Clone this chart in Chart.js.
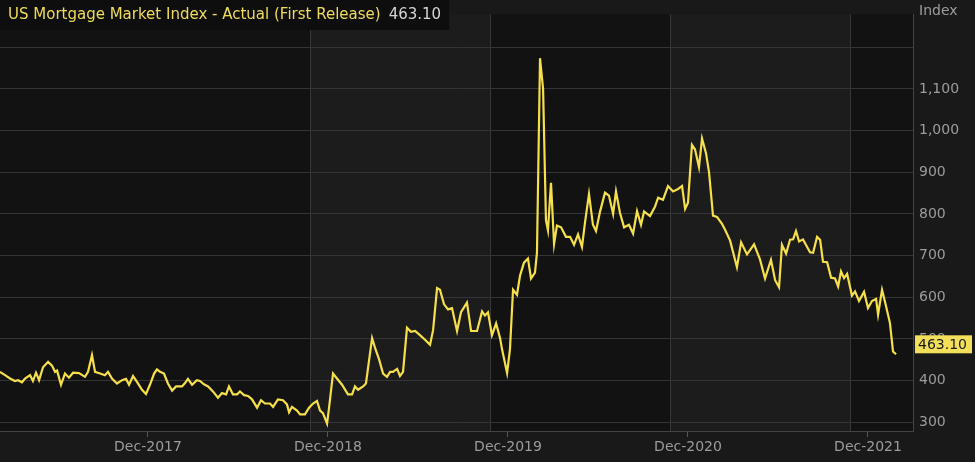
<!DOCTYPE html>
<html>
<head>
<meta charset="utf-8">
<script src="https://cdn.jsdelivr.net/npm/chart.js@4.4.1/dist/chart.umd.min.js"></script>
<style>
  html, body { margin: 0; padding: 0; background: #191919; overflow: hidden; }
  #wrap { position: relative; width: 975px; height: 462px; }
</style>
</head>
<body>
<div id="wrap"><canvas id="chart"></canvas></div>
<script>
// US Mortgage Market Index, weekly (decimal-year dates)
const SERIES_NAME = 'US Mortgage Market Index - Actual (First Release)';
const LAST_VALUE = 463.10;

const times = [
  2017.095, 2017.123, 2017.151, 2017.178, 2017.195, 2017.217, 2017.234, 2017.262, 2017.278, 2017.295,
  2017.312, 2017.334, 2017.362, 2017.384, 2017.401, 2017.412, 2017.434, 2017.456, 2017.478, 2017.501,
  2017.534, 2017.567, 2017.584, 2017.606, 2017.623, 2017.651, 2017.678, 2017.695, 2017.717, 2017.745,
  2017.773, 2017.795, 2017.812, 2017.834, 2017.856, 2017.884, 2017.906, 2017.928, 2017.951, 2017.967,
  2017.984, 2018.006, 2018.028, 2018.051, 2018.073, 2018.106, 2018.123, 2018.139, 2018.162, 2018.189,
  2018.206, 2018.228, 2018.251, 2018.278, 2018.306, 2018.328, 2018.351, 2018.367, 2018.389, 2018.412,
  2018.428, 2018.451, 2018.473, 2018.495, 2018.523, 2018.545, 2018.567, 2018.595, 2018.612, 2018.639,
  2018.667, 2018.689, 2018.701, 2018.717, 2018.745, 2018.762, 2018.789, 2018.812, 2018.834, 2018.856,
  2018.873, 2018.889, 2018.912, 2018.923, 2018.945, 2018.967, 2018.995, 2019.028, 2019.051, 2019.067,
  2019.084, 2019.112, 2019.128, 2019.162, 2019.178, 2019.201, 2019.223, 2019.245, 2019.262, 2019.278,
  2019.301, 2019.317, 2019.334, 2019.356, 2019.378, 2019.401, 2019.428, 2019.456, 2019.484, 2019.501,
  2019.523, 2019.539, 2019.562, 2019.584, 2019.606, 2019.634, 2019.656, 2019.689, 2019.712, 2019.745,
  2019.773, 2019.789, 2019.806, 2019.828, 2019.851, 2019.873, 2019.884, 2019.912, 2019.928, 2019.945,
  2019.967, 2019.984, 2020.006, 2020.028, 2020.045, 2020.067, 2020.078, 2020.095, 2020.112, 2020.128,
  2020.139, 2020.156, 2020.173, 2020.189, 2020.212, 2020.239, 2020.262, 2020.284, 2020.306, 2020.328,
  2020.345, 2020.367, 2020.389, 2020.406, 2020.428, 2020.456, 2020.478, 2020.501, 2020.517, 2020.539,
  2020.562, 2020.589, 2020.612, 2020.634, 2020.656, 2020.673, 2020.706, 2020.734, 2020.751, 2020.778,
  2020.806, 2020.834, 2020.862, 2020.884, 2020.901, 2020.917, 2020.939, 2020.956, 2020.978, 2020.995,
  2021.017, 2021.034, 2021.056, 2021.078, 2021.106, 2021.123, 2021.151, 2021.189, 2021.212, 2021.245,
  2021.284, 2021.317, 2021.345, 2021.378, 2021.401, 2021.423, 2021.439, 2021.462, 2021.484, 2021.501,
  2021.517, 2021.534, 2021.556, 2021.595, 2021.612, 2021.634, 2021.651, 2021.667, 2021.690, 2021.712,
  2021.734, 2021.751, 2021.767, 2021.784, 2021.801, 2021.828, 2021.845, 2021.867, 2021.895, 2021.917,
  2021.939, 2021.962, 2021.973, 2021.995, 2022.017, 2022.039, 2022.056, 2022.073
];

const values = [
  421, 413, 405, 399, 401, 396, 405, 413, 399, 419,
  401, 432, 445, 436, 421, 424, 390, 417, 407, 419,
  418, 409, 421, 461, 421, 417, 413, 421, 405, 393,
  401, 404, 390, 411, 397, 378, 368, 390, 417, 427,
  421, 417, 393, 376, 386, 386, 394, 404, 390, 401,
  399, 391, 386, 374, 359, 370, 367, 386, 367, 367,
  374, 365, 363, 355, 335, 353, 345, 345, 337, 355,
  353, 343, 324, 337, 328, 319, 319, 335, 345, 351,
  328, 322, 297, 335, 417, 405, 390, 367, 367, 386,
  378, 386, 393, 502, 479, 451, 417, 409, 421, 421,
  428, 411, 421, 527, 517, 519, 509, 498, 486, 521,
  622, 618, 583, 571, 574, 519, 564, 587, 519, 519,
  566, 556, 564, 509, 537, 502, 475, 418, 475, 618,
  606, 652, 683, 693, 645, 659, 707, 1174, 1100, 785,
  761, 875, 728, 772, 768, 745, 745, 726, 751, 721,
  780, 848, 774, 759, 805, 851, 844, 800, 854, 803,
  768, 774, 753, 807, 774, 806, 795, 818, 839, 834,
  867, 854, 860, 867, 812, 827, 966, 955, 912, 981,
  946, 900, 796, 793, 776, 762, 736, 672, 732, 703,
  727, 691, 645, 690, 641, 624, 726, 705, 738, 739,
  759, 734, 739, 708, 707, 745, 738, 685, 684, 647,
  645, 626, 662, 646, 656, 604, 614, 591, 613, 574,
  591, 596, 558, 618, 579, 538, 470, 463.1
];

const xMin = 2017.095;
const xMax = 2022.167;
const xTickTimes = [2017.917, 2018.917, 2019.917, 2020.917, 2021.917];
const xTickLabels = ['Dec-2017', 'Dec-2018', 'Dec-2019', 'Dec-2020', 'Dec-2021'];
const bandEdges = [2018.817, 2019.817, 2020.817, 2021.817];

const yMin = 279;
const yMax = 1279;
const yTicks = [300, 400, 500, 600, 700, 800, 900, 1000, 1100, 1200];
const yLabelMax = 1100;

const FONT = '"DejaVu Sans", sans-serif';
const LINE_COLOR = '#f5df4a';
const TEXT_GREY = '#9c9c9c';

// background, year bands and band separators
const bandsPlugin = {
  id: 'bands',
  beforeDraw(chart) {
    const { ctx, chartArea: a, scales: { x } } = chart;
    ctx.save();
    ctx.fillStyle = '#191919';
    ctx.fillRect(0, 0, chart.width, chart.height);
    const edges = [a.left, ...bandEdges.map(t => x.getPixelForValue(t)), a.right];
    for (let i = 0; i < edges.length - 1; i++) {
      ctx.fillStyle = i % 2 === 0 ? '#121212' : '#1c1c1c';
      ctx.fillRect(edges[i], a.top, edges[i + 1] - edges[i], a.bottom - a.top);
    }
    ctx.strokeStyle = '#383838';
    ctx.lineWidth = 1;
    bandEdges.forEach(t => {
      const px = Math.round(x.getPixelForValue(t)) + 0.5;
      ctx.beginPath();
      ctx.moveTo(px, a.top);
      ctx.lineTo(px, a.bottom);
      ctx.stroke();
    });
    ctx.restore();
  },
  afterDraw(chart) {
    const { ctx, chartArea: a, scales: { y } } = chart;
    ctx.save();
    // title box
    ctx.font = '15px ' + FONT;
    const nameW = ctx.measureText(SERIES_NAME).width;
    const valText = LAST_VALUE.toFixed(2);
    const valW = ctx.measureText(valText).width;
    ctx.fillStyle = '#0e0e0e';
    ctx.fillRect(0, 0, 8 + nameW + 8 + valW + 8, 30);
    ctx.textBaseline = 'middle';
    ctx.fillStyle = '#f0dc5c';
    ctx.fillText(SERIES_NAME, 8, 15);
    ctx.fillStyle = '#d6d6d6';
    ctx.fillText(valText, 8 + nameW + 8, 15);

    // axis unit
    ctx.font = '14px ' + FONT;
    ctx.fillStyle = TEXT_GREY;
    ctx.fillText('Index', a.right + 6, 11);

    // last value tag
    const ty = y.getPixelForValue(LAST_VALUE) - 10;
    ctx.fillStyle = '#f3e05a';
    ctx.fillRect(a.right + 2, ty - 9, 57, 18);
    ctx.fillStyle = '#1a1a1a';
    ctx.font = '14px ' + FONT;
    ctx.fillText(valText, a.right + 5, ty + 1);
    ctx.restore();
  }
};

new Chart(document.getElementById('chart'), {
  type: 'line',
  data: {
    datasets: [{
      data: times.map((t, i) => ({ x: t, y: values[i] })),
      borderColor: LINE_COLOR,
      borderWidth: 2.2,
      pointRadius: 0,
      tension: 0,
      fill: false
    }]
  },
  options: {
    responsive: true,
    maintainAspectRatio: false,
    animation: false,
    layout: { padding: 0 },
    plugins: { legend: { display: false }, tooltip: { enabled: false } },
    scales: {
      x: {
        type: 'linear',
        min: xMin,
        max: xMax,
        afterBuildTicks: s => { s.ticks = xTickTimes.map(v => ({ value: v })); },
        afterFit: s => { s.height = 31; },
        grid: { drawOnChartArea: false, drawTicks: true, tickLength: 6, color: '#555555' },
        border: { display: true, color: '#444444' },
        ticks: {
          color: TEXT_GREY,
          font: { family: FONT, size: 14 },
          padding: 2,
          maxRotation: 0,
          autoSkip: false,
          callback: (v, i) => xTickLabels[i]
        }
      },
      y: {
        position: 'right',
        min: yMin,
        max: yMax,
        afterBuildTicks: s => { s.ticks = yTicks.map(v => ({ value: v })); },
        afterFit: s => { s.width = 62; },
        grid: { color: '#343434', drawTicks: false },
        border: { display: true, color: '#444444' },
        ticks: {
          color: TEXT_GREY,
          font: { family: FONT, size: 14 },
          padding: 6,
          callback: v => v > yLabelMax ? '' : v.toLocaleString('en-US')
        }
      }
    }
  },
  plugins: [bandsPlugin]
});
</script>
</body>
</html>
